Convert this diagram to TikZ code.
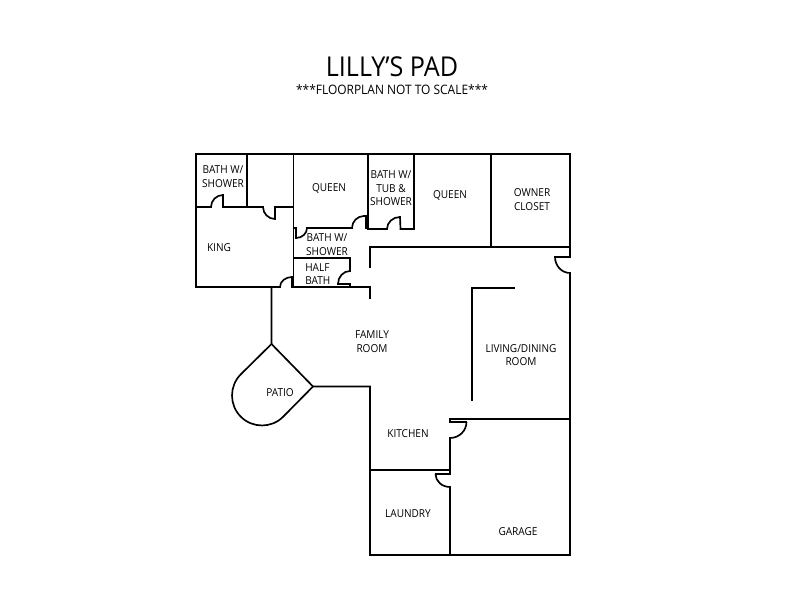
\documentclass[tikz,border=0pt]{standalone}
\usepackage{fontspec}
\setmainfont[FakeStretch=0.92]{Open Sans}
\usetikzlibrary{calc}
\tikzset{
  wall/.style={draw=black,line width=1.25pt,line join=miter,line cap=rect},
  doorline/.style={draw=black,line width=1.25pt,line cap=butt},
  room/.style={font=\fontsize{8.2pt}{10.1pt}\selectfont,align=center,inner sep=0pt,text=black,yshift=-0.75pt},
  halfroom/.style={room,align=left},
  title/.style={font=\fontsize{20.5pt}{22pt}\selectfont,inner sep=0pt,text=black},
  subtitle/.style={font=\fontsize{9.75pt}{12pt}\selectfont,inner sep=0pt,text=black}
}
\newcommand\doorarc[3]{\draw[doorline] (#1) .. controls ($(#1)!.552!(#2)$) and ($(#3)!.552!(#2)$) .. (#3);}
\begin{document}
\begin{tikzpicture}[x=0.75pt,y=-0.75pt]
\useasboundingbox (0,0) rectangle (800,600);
% outer top and left
\draw[wall] (570,273) -- (570,555) -- (370,555) -- (370,386.5) -- (313,386.5) -- (271.5,344) -- (271.5,287);
\draw[wall] (570,257) -- (570,154) -- (196,154) -- (196,287) -- (280,287);
\draw[wall] (292,287) -- (370,287) -- (370,298);
% patio curve
\draw[wall] (271.5,344) -- (240.8,374.3) .. controls (229.1,386) and (229.1,405) .. (240.8,416.7)
  .. controls (252.5,428.4) and (271.5,428.4) .. (283.2,416.7) -- (313,386.5);
% master bath
\draw[wall] (247,154) -- (247,207);
\draw[wall] (196,207) -- (211,207);
\doorarc{211,207}{211,195}{223,195}
\draw[wall] (223,195) -- (223,207) -- (263,207);
\doorarc{263,207}{263,219}{275,219}
\draw[wall] (275,219) -- (275,207) -- (293.5,207);
\draw[wall] (293.5,154) -- (293.5,287);
\doorarc{280,287}{280,277}{292,277}
\draw[wall] (292,277) -- (292,287);
% bath w/ shower
\draw[wall] (293.5,228) -- (296,228) -- (296,238);
\doorarc{296,238}{307,238}{307,228}
\draw[wall] (307,228) -- (352,228);
\doorarc{352,228}{352,216}{364,216}
\draw[wall] (364,216) -- (366,216) -- (366,228) -- (368,228);
% half bath
\draw[wall] (293.5,258) -- (350,258) -- (350,271);
\doorarc{350,271}{338,271}{338,284}
\draw[wall] (338,284) -- (350,284) -- (350,287);
% bath w/ tub
\draw[wall] (368,154) -- (368,229) -- (387,229);
\doorarc{387,229}{387,217}{400,217}
\draw[wall] (400,217) -- (400.5,229) -- (414,229) -- (414,154);
% owner closet and hall
\draw[wall] (491,154) -- (491,247);
\draw[wall] (370,267) -- (370,247) -- (570,247) -- (570,257) -- (555,257);
\doorarc{555,257}{555,273}{570,273}
% living divider
\draw[wall] (514,288) -- (472,288) -- (472,400);
% kitchen / garage
\draw[wall] (570,419) -- (450,419) -- (450,422) -- (466.5,422);
\doorarc{466.5,422}{466.5,438}{450,438}
\draw[wall] (450,438) -- (450,474) -- (435.5,474);
\doorarc{435.5,474}{435.5,487}{450,487}
\draw[wall] (450,487) -- (450,555);
\draw[wall] (370,470) -- (450,470);
% text
\node[title] (title) at (392,67) {LILLY’S PAD};
\node[subtitle] (sub) at (392,89.5) {***FLOORPLAN NOT TO SCALE***};
\node[room] (bath1) at (223,175.5) {BATH W/\\SHOWER};
\node[room] (queen1) at (329,187) {QUEEN};
\node[room] (bath2) at (391,187.5) {BATH W/\\TUB \&\\SHOWER};
\node[room] (queen2) at (450,194) {QUEEN};
\node[room] (closet) at (532,198.5) {OWNER\\CLOSET};
\node[room] (king) at (219,247) {KING};
\node[room] (bath3) at (327,243.5) {BATH W/\\SHOWER};
\node[halfroom,anchor=west] (half) at (305,273) {HALF\\BATH};
\node[room] (family) at (372,340.5) {FAMILY\\ROOM};
\node[room] (living) at (521,354) {LIVING/DINING\\ROOM};
\node[room] (patio) at (280,392) {PATIO};
\node[room] (kitchen) at (408,433) {KITCHEN};
\node[room] (laundry) at (408,513) {LAUNDRY};
\node[room] (garage) at (518,531) {GARAGE};
\end{tikzpicture}
\end{document}
